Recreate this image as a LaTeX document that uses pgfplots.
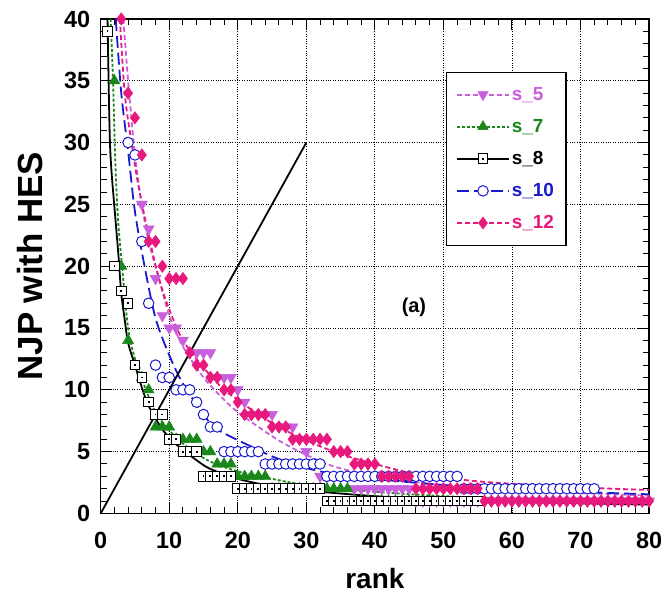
\documentclass[border=0pt]{standalone}
\usepackage{pgfplots}
\pgfplotsset{compat=1.18}
\usepackage{fontspec}
\setmainfont{Liberation Sans}
\definecolor{cviolet}{RGB}{200,95,220}
\definecolor{cgreen}{RGB}{25,135,25}
\definecolor{cblue}{RGB}{25,25,205}
\definecolor{cpink}{RGB}{232,25,125}
\pgfdeclareplotmark{sqdot}{%
  \pgfpathrectangle{\pgfpoint{-\pgfplotmarksize}{-\pgfplotmarksize}}{\pgfpoint{2\pgfplotmarksize}{2\pgfplotmarksize}}%
  \pgfsetfillcolor{white}\pgfusepathqfillstroke
  \pgfpathrectangle{\pgfpoint{-0.9pt}{-0.9pt}}{\pgfpoint{1.8pt}{1.8pt}}%
  \pgfsetfillcolor{black}\pgfusepathqfill}
\begin{document}
\begin{tikzpicture}
\useasboundingbox (-101pt,-89pt) rectangle (563pt,515pt);
\begin{axis}[
  at={(0,0)}, anchor=south west,
  width=550pt, height=496pt, scale only axis,
  xmin=0, xmax=80, ymin=0, ymax=40,
  xtick={0,10,...,80}, ytick={0,5,...,40},
  minor x tick num=4, minor y tick num=4,
  tick align=inside,
  major tick length=11pt, minor tick length=6pt,
  every tick/.style={black, line width=1pt},
  grid=major,
  major grid style={black, line width=0.8pt, dash pattern=on 1pt off 1.4pt},
  axis line style={line width=1.6pt},
  /pgf/number format/assume math mode=true,
  ticklabel style={font=\bfseries\fontsize{23.5}{23.5}\selectfont},
  xticklabel style={yshift=-15pt},
  yticklabel style={xshift=-7pt},
  xlabel={rank}, ylabel={NJP with HES},
  xlabel style={font=\bfseries\fontsize{28}{28}\selectfont, at={(axis description cs:0.5,-0.131)}, anchor=center},
  ylabel style={font=\bfseries\fontsize{35}{35}\selectfont, at={(axis description cs:-0.129,0.5)}, anchor=center},
  legend style={at={(rel axis cs:0.629,0.893)}, anchor=north west, draw=black, line width=1.2pt,
    font=\bfseries\fontsize{19}{19}\selectfont, row sep=13.5pt, inner xsep=10pt, inner ysep=13pt},
  legend cell align=left,
  legend image code/.code={\draw[mark repeat=2,mark phase=2,#1] plot coordinates {(0pt,0pt) (26pt,0pt) (52pt,0pt)};},
  clip=false,
]
\addlegendimage{cviolet, line width=1.8pt, dash pattern=on 5pt off 3pt, mark=triangle*, mark size=6pt, mark options={solid, rotate=180, fill=cviolet, line width=0.5pt}}
\addlegendentry[text=cviolet]{s\_5}
\addlegendimage{cgreen, line width=1.8pt, dash pattern=on 3pt off 2pt, mark=triangle*, mark size=6pt, mark options={solid, fill=cgreen, line width=0.5pt}}
\addlegendentry[text=cgreen]{s\_7}
\addlegendimage{black, line width=1.8pt, mark=sqdot, mark size=4.8pt, mark options={solid, line width=1pt}}
\addlegendentry[text=black]{s\_8}
\addlegendimage{cblue, line width=1.8pt, dash pattern=on 12pt off 5pt, mark=*, mark size=5.3pt, mark options={solid, fill=white, line width=1pt}}
\addlegendentry[text=cblue]{s\_10}
\addlegendimage{cpink, line width=1.8pt, dash pattern=on 5pt off 3pt, mark=diamond*, mark size=6pt, mark options={solid, fill=cpink, line width=0.5pt}}
\addlegendentry[text=cpink]{s\_12}

% s_5 markers
\addplot[forget plot, only marks, cviolet, mark=triangle*, mark size=6.3pt, mark options={rotate=180, fill=cviolet, line width=0.5pt}] coordinates {
(6,25)(7,23)(8,19)(9,16)(10,15)(11,15)(12,14)(13,13)(14,13)(15,13)(16,13)(17,11)(18,11)(19,11)(20,10)(21,9)(22,8)(23,8)(24,8)(25,8)(26,7)(27,7)(28,7)(29,6)(30,5)(31,4)(32,3)(33,3)(34,3)(35,3)(36,3)
(37,2)(38,2)(39,2)(40,2)(41,2)(42,2)(43,2)(44,2)(45,2)
(46,1)(47,1)(48,1)(49,1)(50,1)(51,1)(52,1)(53,1)(54,1)(55,1)(56,1)(57,1)(58,1)(59,1)(60,1)(61,1)(62,1)(63,1)(64,1)(65,1)(66,1)(67,1)(68,1)(69,1)(70,1)(71,1)(72,1)(73,1)(74,1)(75,1)(76,1)(77,1)(78,1)(79,1)(80,1)};
% s_7 markers
\addplot[forget plot, only marks, cgreen, mark=triangle*, mark size=6.3pt, mark options={fill=cgreen, line width=0.5pt}] coordinates {
(2,35)(3,20)(4,14)(5,12)(6,11)(7,10)(8,7)(9,7)(10,7)(11,6)(12,6)(13,6)(14,6)(15,5)(16,5)(17,4)(18,4)(19,4)(20,3)(21,3)(22,3)(23,3)(24,3)
(25,2)(26,2)(27,2)(28,2)(29,2)(30,2)(31,2)(32,2)(33,2)(34,2)(35,2)(36,2)
(37,1)(38,1)(39,1)(40,1)(41,1)(42,1)(43,1)(44,1)(45,1)(46,1)(47,1)(48,1)(49,1)(50,1)};
% s_8 markers
\addplot[forget plot, only marks, black, mark=sqdot, mark size=4.8pt, mark options={line width=1pt}] coordinates {
(1,39)(2,20)(3,18)(4,17)(5,12)(6,11)(7,9)(8,8)(9,8)(10,6)(11,6)(12,5)(13,5)(14,5)(15,3)(16,3)(17,3)(18,3)(19,3)
(20,2)(21,2)(22,2)(23,2)(24,2)(25,2)(26,2)(27,2)(28,2)(29,2)(30,2)(31,2)(32,2)
(33,1)(34,1)(35,1)(36,1)(37,1)(38,1)(39,1)(40,1)(41,1)(42,1)(43,1)(44,1)(45,1)(46,1)(47,1)(48,1)(49,1)(50,1)(51,1)(52,1)(53,1)(54,1)(55,1)};
% s_10 markers
\addplot[forget plot, only marks, cblue, mark=*, mark size=5.3pt, mark options={fill=white, line width=1pt}] coordinates {
(4,30)(5,29)(6,22)(7,17)(8,12)(9,11)(10,11)(11,10)(12,10)(13,10)(14,9)(15,8)(16,7)(17,7)(18,5)(19,5)(20,5)(21,5)(22,5)(23,5)
(24,4)(25,4)(26,4)(27,4)(28,4)(29,4)(30,4)(31,4)(32,4)
(33,3)(34,3)(35,3)(36,3)(37,3)(38,3)(39,3)(40,3)(41,3)(42,3)(43,3)(44,3)(45,3)(46,3)(47,3)(48,3)(49,3)(50,3)(51,3)(52,3)
(53,2)(54,2)(55,2)(56,2)(57,2)(58,2)(59,2)(60,2)(61,2)(62,2)(63,2)(64,2)(65,2)(66,2)(67,2)(68,2)(69,2)(70,2)(71,2)(72,2)};
% s_12 markers
\addplot[forget plot, only marks, cpink, mark=diamond*, mark size=6.2pt, mark options={fill=cpink, line width=0.5pt}] coordinates {
(3,40)(4,34)(5,32)(6,29)(7,22)(8,22)(9,20)(10,19)(11,19)(12,19)(13,13)(14,12)(15,12)(16,11)(17,11)(18,10)(19,10)(20,9)(21,8)(22,8)(23,8)(24,8)(25,7)(26,7)(27,7)
(28,6)(29,6)(30,6)(31,6)(32,6)(33,6)(34,5)(35,5)(36,5)(37,4)(38,4)(39,4)(40,4)(41,3)(42,3)(43,3)(44,3)(45,3)
(46,2)(47,2)(48,2)(49,2)(50,2)(51,2)(52,2)(53,2)(54,2)(55,2)
(56,1)(57,1)(58,1)(59,1)(60,1)(61,1)(62,1)(63,1)(64,1)(65,1)(66,1)(67,1)(68,1)(69,1)(70,1)(71,1)(72,1)(73,1)(74,1)(75,1)(76,1)(77,1)(78,1)(79,1)(80,1)};

% fit lines
\addplot[forget plot, cviolet, line width=1.8pt, dash pattern=on 5pt off 3pt, smooth] coordinates {
(3.3,40)(4,35)(5,29)(6,25)(7,22)(8.5,19)(10,16)(12,13.5)(15,11)(18,9.2)(20,8.2)(23,7)(26,5.9)(29,5)(33,4)(36,3.5)(40,3)(45,2.6)(50,2.3)(60,1.9)(70,1.65)(80,1.45)};
\addplot[forget plot, cgreen, line width=1.8pt, dash pattern=on 3pt off 2pt, smooth] coordinates {
(1.45,40)(1.8,35)(2.1,29)(2.5,24)(3.2,19.5)(4,15)(5,12.5)(6.4,10.3)(8,8.2)(10,6.7)(13,5.2)(16,4.2)(20,3.4)(25,2.8)(30,2.3)(40,1.75)(50,1.4)(60,1.2)(70,1.05)(80,0.92)};
\addplot[forget plot, black, line width=1.8pt, smooth] coordinates {
(1.0,40)(1.15,35)(1.35,30)(1.6,27.5)(2.0,24.8)(2.6,20.8)(3.0,17.8)(3.5,15.7)(4,13.8)(5,12)(6,10.2)(7,8.7)(9,6.8)(11,5.6)(14,4.3)(16,3.6)(20,2.8)(25,2.2)(30,1.85)(40,1.4)(50,1.12)(60,0.95)(70,0.82)(80,0.72)};
\addplot[forget plot, cblue, line width=1.8pt, dash pattern=on 12pt off 5pt, smooth] coordinates {
(2.2,40)(3,34)(4,29.3)(5,24.4)(6.4,20)(8,15.8)(10,12.8)(12,10.5)(15,8)(17,6.8)(22,5.4)(26,4.4)(32,3.4)(40,2.8)(50,2.3)(60,2.0)(72,1.7)(80,1.55)};
\addplot[forget plot, cpink, line width=1.8pt, dash pattern=on 5pt off 3pt, smooth] coordinates {
(2.8,40)(3.5,34)(4.5,30)(5.5,26.5)(7,22.5)(8.5,19)(10,16.5)(12,14)(15,11.8)(18,10)(20,9.2)(23,8)(26,7)(30,5.9)(35,4.8)(40,4)(45,3.3)(50,2.9)(55,2.6)(60,2.4)(70,2.1)(80,1.9)};
% diagonal
\addplot[forget plot, black, line width=1.8pt] coordinates {(0,0)(30,30)};
\node[font=\bfseries\fontsize{20}{20}\selectfont] at (axis cs:45.7,16.7) {(a)};
\end{axis}
\end{tikzpicture}
\end{document}
